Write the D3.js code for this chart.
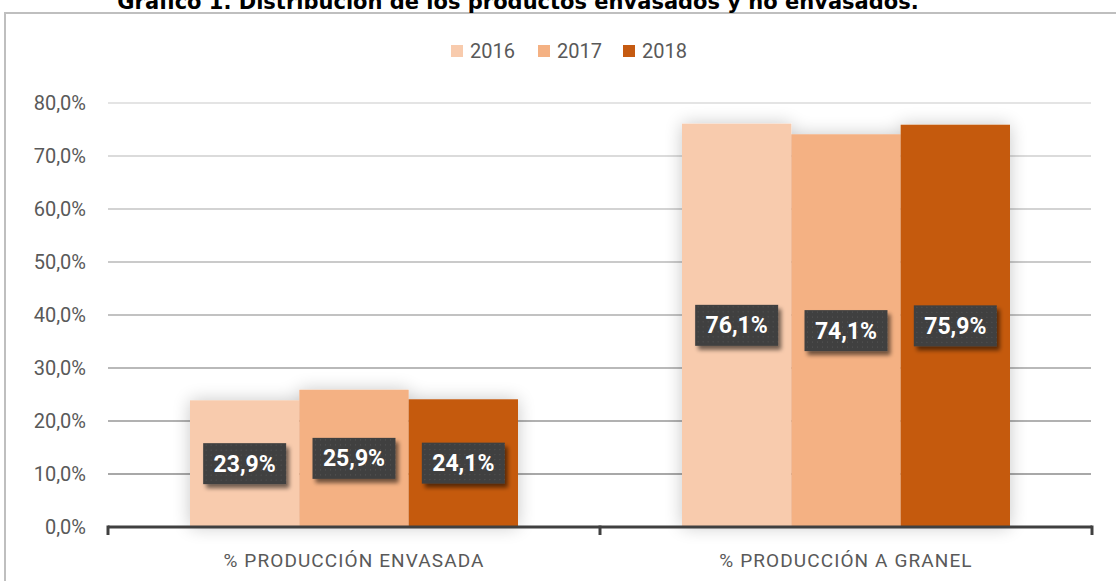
<!DOCTYPE html>
<html>
<head>
<meta charset="utf-8">
<script src="https://cdn.jsdelivr.net/npm/d3@7"></script>
<style>
  body { margin: 0; background: #fff; }
  svg { display: block; }
</style>
</head>
<body>
<div id="chart"></div>
<script>
// ---------------- data ----------------
const categories = ["% PRODUCCIÓN ENVASADA", "% PRODUCCIÓN A GRANEL"];
const years = ["2016", "2017", "2018"];
const values2016 = [0.239, 0.761];
const values2017 = [0.259, 0.741];
const values2018 = [0.241, 0.759];
const labels2016 = ["23,9%", "76,1%"];
const labels2017 = ["25,9%", "74,1%"];
const labels2018 = ["24,1%", "75,9%"];
const yTicks = [0, 0.1, 0.2, 0.3, 0.4, 0.5, 0.6, 0.7, 0.8];
const colors = ["#F8CBAD", "#F4B183", "#C55A11"];

const W = 1116, H = 581;
const plotLeft = 108, plotRight = 1092, plotTop = 103, plotBottom = 527;

const svg = d3.select("#chart").append("svg")
  .attr("width", W).attr("height", H);

const defs = svg.append("defs");

// soft shadow beside the bars
const sh = defs.append("filter").attr("id", "barShadow")
  .attr("x", "-30%").attr("y", "-10%").attr("width", "160%").attr("height", "120%");
sh.append("feGaussianBlur").attr("in", "SourceAlpha").attr("stdDeviation", 9).attr("result", "b");
sh.append("feComponentTransfer").attr("in", "b").attr("result", "bs")
  .append("feFuncA").attr("type", "linear").attr("slope", 0.22);
let m = sh.append("feMerge");
m.append("feMergeNode").attr("in", "bs");
m.append("feMergeNode").attr("in", "SourceGraphic");

// label box shadow
const ls = defs.append("filter").attr("id", "lblShadow")
  .attr("x", "-20%").attr("y", "-20%").attr("width", "150%").attr("height", "160%");
ls.append("feGaussianBlur").attr("in", "SourceAlpha").attr("stdDeviation", 2).attr("result", "b");
ls.append("feOffset").attr("in", "b").attr("dx", 3).attr("dy", 4).attr("result", "o");
ls.append("feComponentTransfer").attr("in", "o").attr("result", "os")
  .append("feFuncA").attr("type", "linear").attr("slope", 0.55);
m = ls.append("feMerge");
m.append("feMergeNode").attr("in", "os");
m.append("feMergeNode").attr("in", "SourceGraphic");

// dotted fill for the labels
const pat = defs.append("pattern").attr("id", "dots")
  .attr("width", 5).attr("height", 5).attr("patternUnits", "userSpaceOnUse");
pat.append("rect").attr("width", 5).attr("height", 5).attr("fill", "#404040");
pat.append("rect").attr("x", 1).attr("y", 1).attr("width", 1).attr("height", 1).attr("fill", "#555555");

// ---------------- frame + title ----------------
svg.append("line").attr("x1", 4).attr("x2", W).attr("y1", 13).attr("y2", 13)
  .attr("stroke", "#bfbfbf").attr("stroke-width", 2);
svg.append("line").attr("x1", 5).attr("x2", 5).attr("y1", 12).attr("y2", H)
  .attr("stroke", "#bfbfbf").attr("stroke-width", 2);

// title sits partly above the page edge, as in the source image
svg.append("text")
  .attr("x", 518).attr("y", 9)
  .attr("text-anchor", "middle")
  .style("font-family", "'DejaVu Sans', Verdana, sans-serif")
  .style("font-weight", "bold")
  .style("font-size", "21px")
  .attr("fill", "#000")
  .text("Gráfico 1. Distribución de los productos envasados y no envasados.");

// ---------------- scales ----------------
const x0 = d3.scaleBand().domain(categories).range([plotLeft, plotRight])
  .paddingInner(1 / 3).paddingOuter(1 / 6);
const x1 = d3.scaleBand().domain(years).range([0, x0.bandwidth()]);
const y = d3.scaleLinear().domain([0, 0.8]).range([plotBottom, plotTop]);

// gridlines, lighter at top
const gridColor = d3.scaleLinear().domain([0.8, 0.1]).range(["#e4e4e4", "#a8a8a8"]);
svg.append("g").selectAll("line")
  .data(yTicks.filter(d => d > 0))
  .enter().append("line")
  .attr("x1", plotLeft).attr("x2", plotRight - 1)
  .attr("y1", d => y(d)).attr("y2", d => y(d))
  .attr("stroke", d => gridColor(d)).attr("stroke-width", 2);

// y labels
svg.append("g").selectAll("text")
  .data(yTicks)
  .enter().append("text")
  .attr("x", 86).attr("y", d => y(d) + 7)
  .attr("text-anchor", "end")
  .style("font-family", "Roboto, sans-serif")
  .style("font-size", "20px")
  .attr("fill", "#595959")
  .text(d => d3.format(".1f")(d * 100).replace(".", ",") + "%");

// ---------------- bars ----------------
const series = [values2016, values2017, values2018];
const seriesLabels = [labels2016, labels2017, labels2018];
const rows = [];
categories.forEach((c, i) => {
  years.forEach((yr, j) => {
    rows.push({cat: c, year: yr, value: series[j][i], label: seriesLabels[j][i], color: colors[j]});
  });
});

svg.append("g").attr("filter", "url(#barShadow)")
  .selectAll("rect")
  .data(rows)
  .enter().append("rect")
  .attr("x", d => x0(d.cat) + x1(d.year))
  .attr("y", d => y(d.value))
  .attr("width", x1.bandwidth())
  .attr("height", d => y(0) - y(d.value))
  .attr("fill", d => d.color);

// ---------------- axis ----------------
const ax = svg.append("g").attr("fill", "none").attr("stroke", "#404040").attr("stroke-width", 3);
ax.append("line").attr("x1", plotLeft).attr("x2", plotRight).attr("y1", plotBottom).attr("y2", plotBottom);
[plotLeft, (plotLeft + plotRight) / 2, plotRight].forEach(t => {
  ax.append("line").attr("x1", t).attr("x2", t).attr("y1", plotBottom - 1.5).attr("y2", plotBottom + 8);
});

svg.append("g").selectAll("text")
  .data(categories)
  .enter().append("text")
  .attr("x", d => x0(d) + x0.bandwidth() / 2)
  .attr("y", 567)
  .attr("text-anchor", "middle")
  .style("font-family", "Roboto, sans-serif")
  .style("font-size", "19px")
  .style("letter-spacing", "1.1px")
  .attr("fill", "#595959")
  .text(d => d);

// ---------------- data labels ----------------
const lbl = svg.append("g").selectAll("g")
  .data(rows)
  .enter().append("g")
  .attr("transform", d => `translate(${x0(d.cat) + x1(d.year) + x1.bandwidth() / 2},${y(d.value / 2)})`);

lbl.append("rect")
  .attr("x", -41.5).attr("y", -20.5)
  .attr("width", 83).attr("height", 41)
  .attr("fill", "url(#dots)")
  .attr("filter", "url(#lblShadow)");

lbl.append("text")
  .attr("y", 8)
  .attr("text-anchor", "middle")
  .style("font-family", "Roboto, sans-serif")
  .style("font-weight", "bold")
  .style("font-size", "23px")
  .attr("fill", "#fff")
  .text(d => d.label);

// ---------------- legend ----------------
const legX = [451, 538, 623];
const leg = svg.append("g").selectAll("g")
  .data(years)
  .enter().append("g")
  .attr("transform", (d, i) => `translate(${legX[i]},45)`);
leg.append("rect").attr("width", 12).attr("height", 12).attr("fill", (d, i) => colors[i]);
leg.append("text")
  .attr("x", 19).attr("y", 13)
  .style("font-family", "Roboto, sans-serif")
  .style("font-size", "20px")
  .attr("fill", "#595959")
  .text(d => d);
</script>
</body>
</html>
